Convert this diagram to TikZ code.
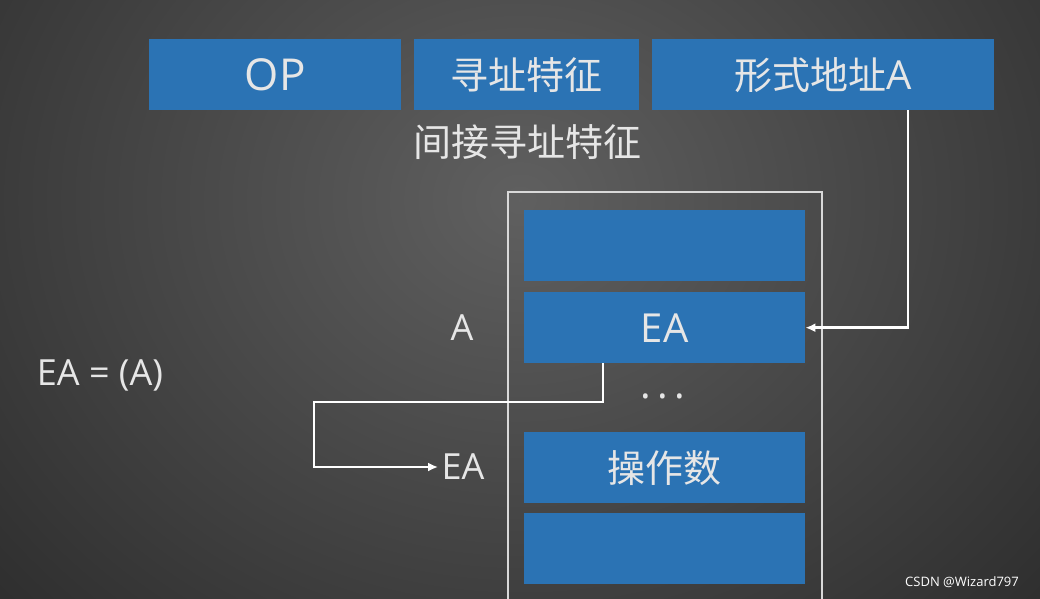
\documentclass[tikz,border=0pt]{standalone}
\usepackage{fontspec}
\setmainfont{Noto Sans CJK SC}
\newfontfamily\latf{Open Sans}
\begin{document}
\begin{tikzpicture}[x=1pt,y=-1pt,
  cell/.style={fill=cellblue,draw=none,minimum height=71pt,inner sep=0pt,anchor=north west,text=txt,font=\fontsize{38}{40}\selectfont},
  lab/.style={text=txt,font=\fontsize{38}{40}\selectfont},
  arr/.style={draw=white,line width=2.5pt,-{Latex[length=10pt,width=9pt]}}]
\usetikzlibrary{arrows.meta}
\definecolor{cellblue}{HTML}{2B73B4}
\definecolor{txt}{HTML}{E6E6E6}
\useasboundingbox (0,0) rectangle (1040,598);
\shade[inner color=gray!75!black, outer color=black!85, shading=radial] (-300,-500) rectangle (1340,900);
\clip (0,0) rectangle (1040,598);
\node[cell,minimum width=252pt] (op) at (149,39) {\latf\fontsize{44}{46}\selectfont OP};
\node[cell,minimum width=225pt] (xz) at (414,39) {寻址特征};
\node[cell,minimum width=342pt] (xs) at (652,39) {形式地址{\latf\fontsize{40}{42}\selectfont A}};
\node[lab] (jj) at (527,142) {间接寻址特征};
\draw[white!85!black,line width=1.2pt] (508,620) |- (822,192) -- (822,620);
\node[cell,minimum width=281pt] (c1) at (524,210) {};
\node[cell,minimum width=281pt] (c2) at (524,292) {\latf\fontsize{40}{42}\selectfont EA};
\node[lab] (dots) at (663,396) {\latf\fontsize{40}{42}\selectfont .\,.\,.};
\node[cell,minimum width=281pt] (c3) at (524,432) {操作数};
\node[cell,minimum width=281pt] (c4) at (524,513) {};
\node[lab,font=\latf\fontsize{36}{38}\selectfont] (la) at (462,328) {A};
\node[lab,font=\latf\fontsize{36}{38}\selectfont] (lea) at (463,467) {EA};
\node[lab,font=\latf\fontsize{36}{38}\selectfont] (eq) at (100,375) {EA = (A)};
\node[text=white,font=\fontsize{13}{14}\selectfont\latf] (wm) at (962,582) {CSDN @Wizard797};
\coordinate (t1) at (908,110);
\draw[arr] (t1) |- (c2.east);
\coordinate (t2) at (603,363);
\draw[arr] (t2) -- (603,402) -- (314,402) |- (lea.west);
\end{tikzpicture}
\end{document}
